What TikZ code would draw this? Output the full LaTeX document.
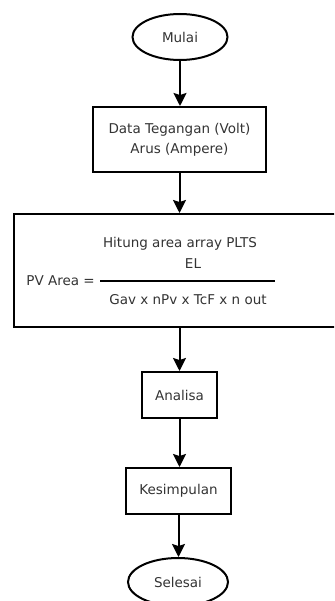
\documentclass[tikz,border=0pt]{standalone}
\usepackage{fontspec}
\setmainfont{DejaVu Sans}
\usetikzlibrary{shapes.geometric,arrows.meta}
\definecolor{txt}{HTML}{333333}
\tikzset{
  box/.style={draw=black, line width=2pt, rectangle, inner sep=0pt, text=txt, font=\fontsize{13.5}{20}\selectfont, align=center},
  term/.style={draw=black, line width=2pt, ellipse, inner sep=0pt, text=txt, font=\fontsize{13.5}{20}\selectfont},
  lbl/.style={text=txt, font=\fontsize{13.5}{20}\selectfont, inner sep=0pt},
  flow/.style={line width=2pt, -{Stealth[length=13pt,width=13pt,inset=2pt]}}
}
\begin{document}
\begin{tikzpicture}[x=1pt,y=1pt]
\useasboundingbox (0,0) rectangle (334,-601);
\clip (0,0) rectangle (334,-601);
\node[term, minimum width=95, minimum height=46] (mulai) at (180,-37) {Mulai};
\node[box, minimum width=173, minimum height=65] (data) at (179.5,-139.5) {Data Tegangan (Volt)\\Arus (Ampere)};
\node[box, minimum width=336, minimum height=113] (hitung) at (182,-270.5) {};
\node[lbl] (t1) at (180,-244) {Hitung area array PLTS};
\node[lbl] (el) at (193,-264) {EL};
\coordinate (fl) at (100,-281);
\coordinate (fr) at (275,-281);
\draw[line width=1.6pt] (fl) -- (fr);
\node[lbl, anchor=east] (pv) at (95,-281) {PV Area =};
\node[lbl] (den) at (188,-300) {Gav x nPv x TcF x n out};
\node[box, minimum width=75, minimum height=46] (analisa) at (179.5,-395) {Analisa};
\node[box, minimum width=105, minimum height=46] (kes) at (178.5,-491) {Kesimpulan};
\node[term, minimum width=100, minimum height=48] (selesai) at (178,-582) {Selesai};
\draw[flow] (mulai) -- (mulai |- data.north);
\draw[flow] (data) -- (data |- hitung.north);
\draw[flow] (data |- hitung.south) -- (data |- analisa.north);
\draw[flow] (analisa) -- (analisa |- kes.north);
\draw[flow] (kes) -- (kes |- selesai.north);
\end{tikzpicture}
\end{document}
